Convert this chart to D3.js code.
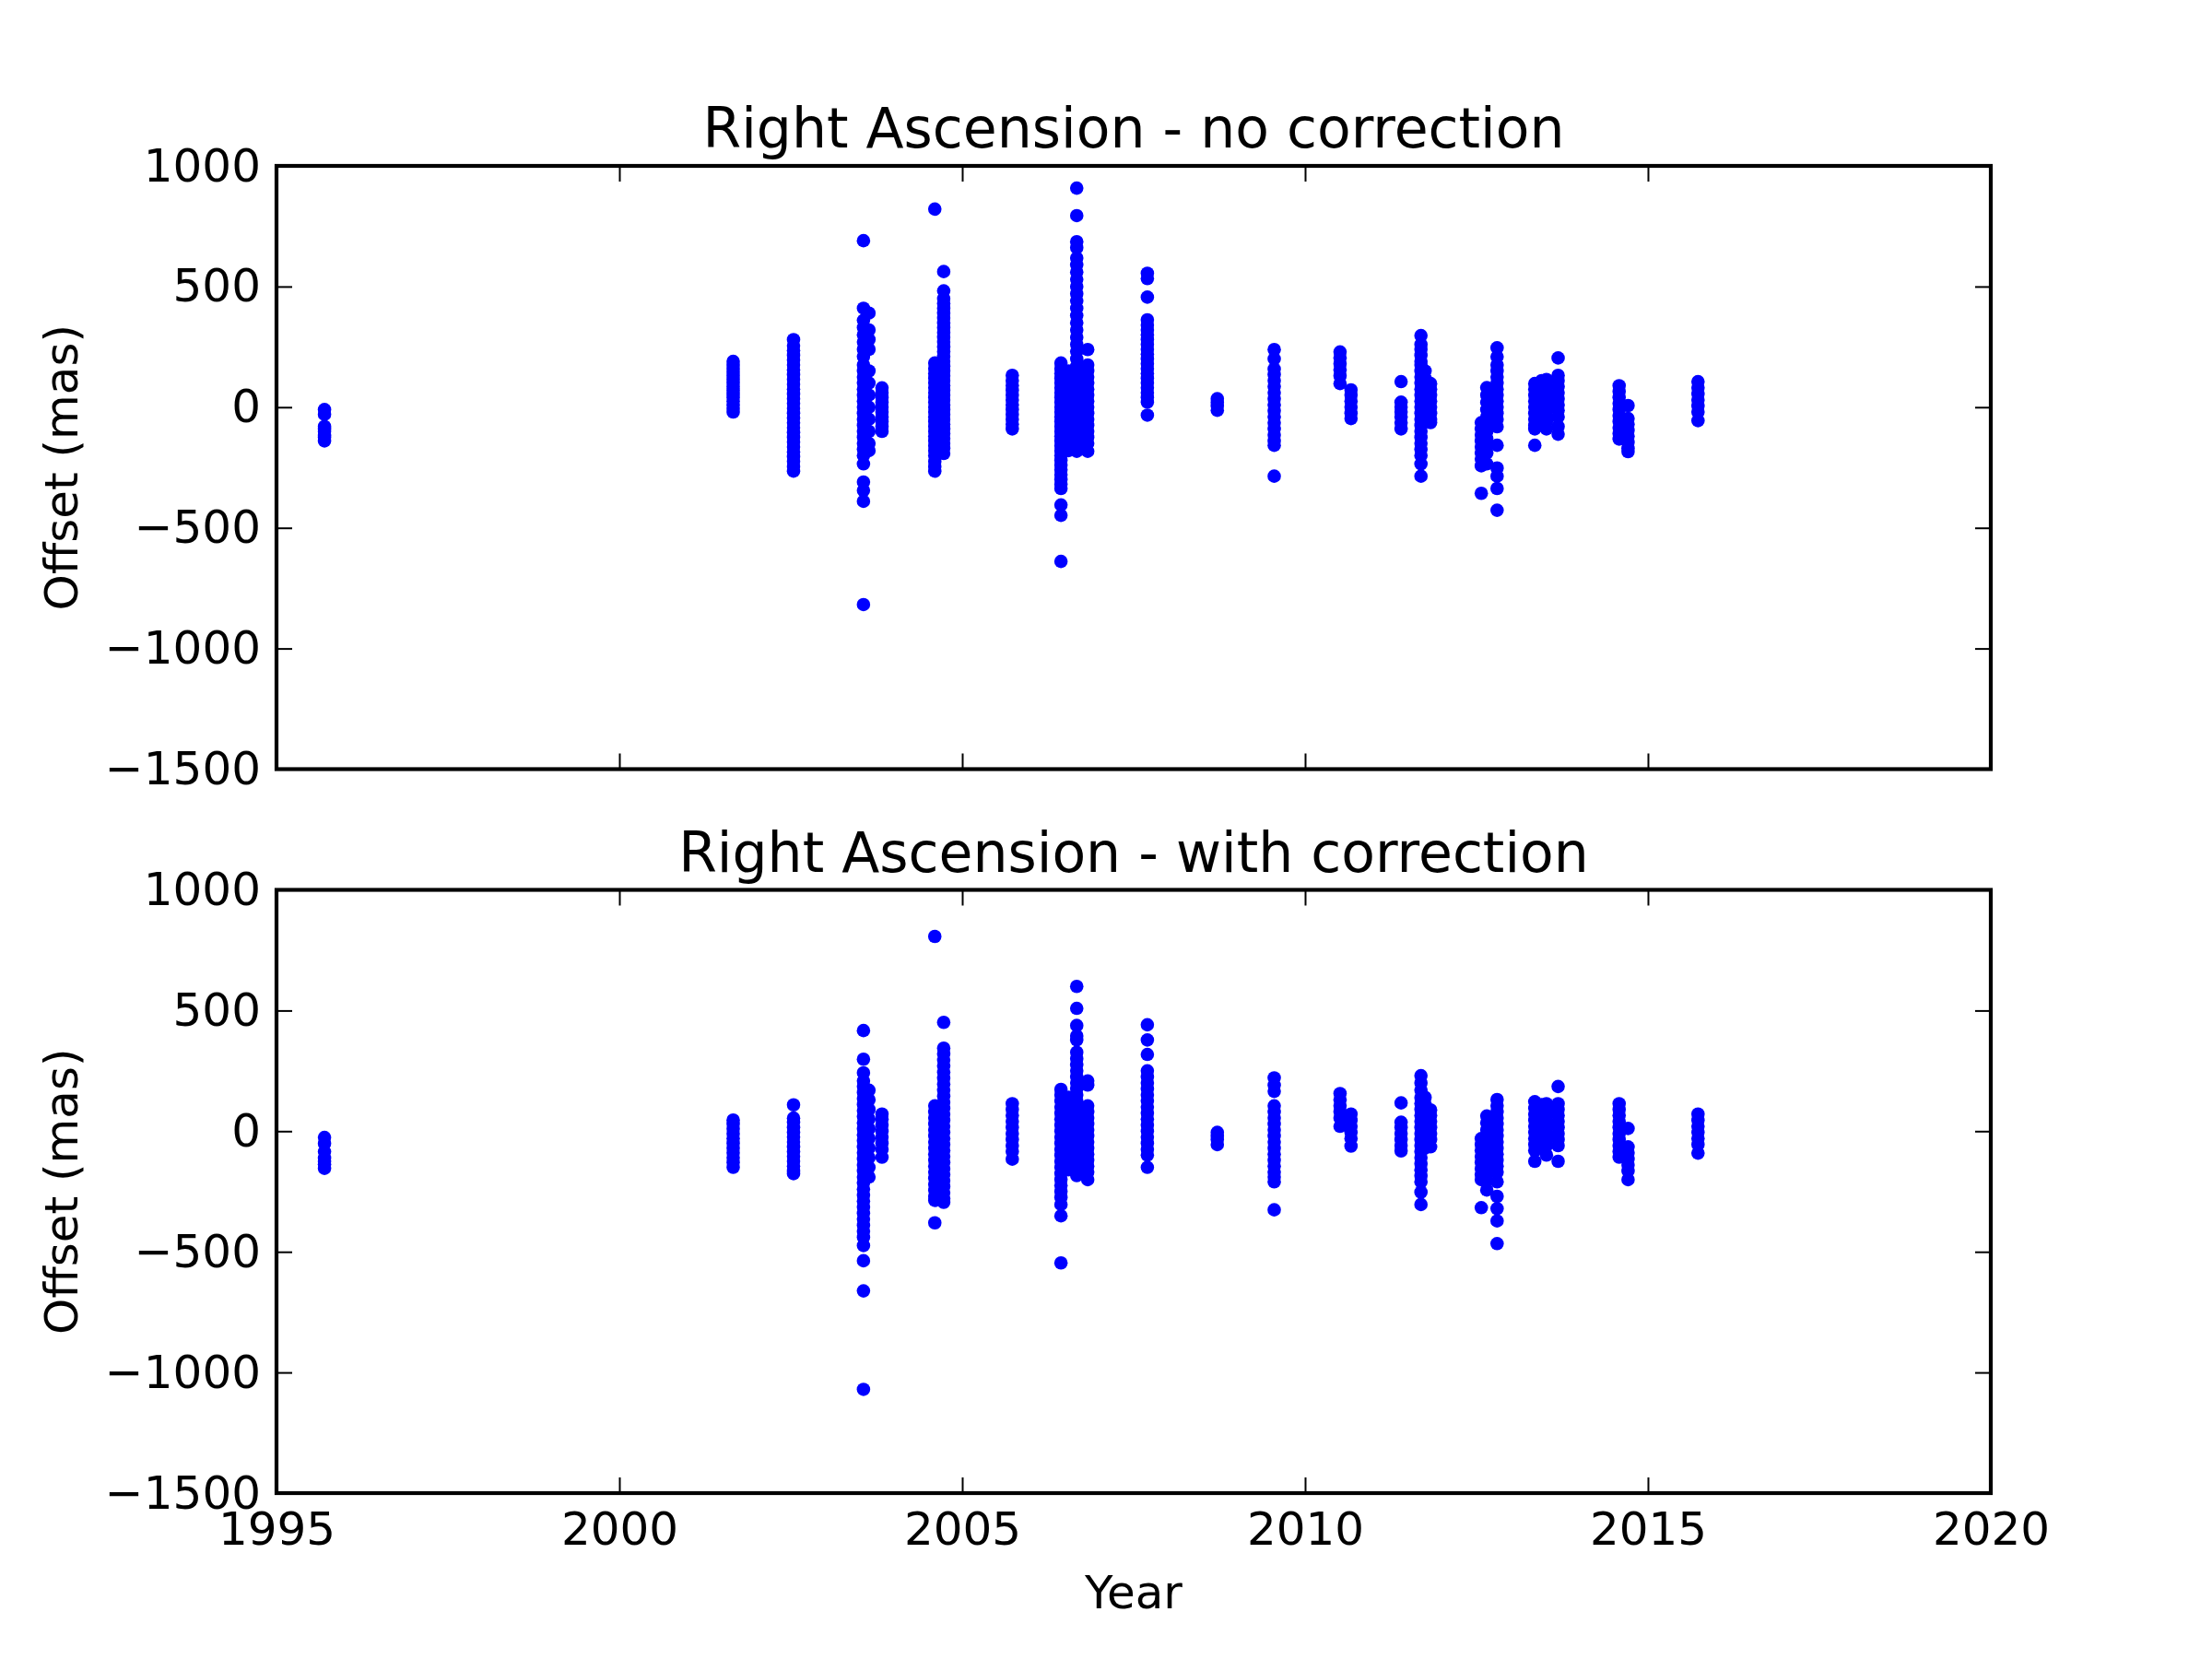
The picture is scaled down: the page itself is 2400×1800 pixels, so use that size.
<!DOCTYPE html>
<html>
<head>
<meta charset="utf-8">
<script src="https://cdn.jsdelivr.net/npm/d3@7"></script>
<style>
body{margin:0;background:#fff;}
text{font-family:"DejaVu Sans",sans-serif;}
</style>
</head>
<body>
<svg></svg>
<script>
// observation epochs (decimal year), one per column of points
var years=[1995.70,2001.66,2002.54,2003.56,2003.64,2003.83,2004.60,2004.73,2005.73,
  2006.44,2006.55,2006.67,2006.83,2007.70,2008.72,2009.55,2010.51,2010.67,2011.40,
  2011.69,2011.75,2011.83,2012.57,2012.65,2012.80,2013.35,2013.45,2013.52,2013.69,
  2014.58,2014.71,2015.73];

// offsets (mas) without correction, one list per epoch
var raNoCorrection=[
  [-10,-30,-80,-90,-100,-115,-125,-140],
  [-20,-5,10,25,40,55,70,85,100,115,130,145,160,175,190],
  [-265,-245,-225,-205,-185,-165,-145,-125,-105,-85,-65,-45,-25,-5,15,35,55,75,95,115,135,155,175,195,215,235,255,280],
  [690,410,360,330,300,270,240,210,175,150,125,100,75,50,25,0,-25,-50,-75,-100,-125,-150,-175,-200,-235,-310,-345,-390,-818],
  [390,320,280,240,150,100,50,0,-50,-100,-150,-180],
  [80,60,40,20,0,-20,-40,-60,-80,-100],
  [821,183,160,140,120,100,80,60,40,20,0,-20,-40,-60,-80,-100,-120,-140,-160,-180,-200,-225,-245,-265],
  [562,482,450,430,410,390,370,350,330,310,290,270,250,230,210,190,170,150,130,110,90,70,50,30,10,-10,-30,-50,-70,-90,-110,-130,-150,-170,-192],
  [132,110,90,70,50,30,10,-10,-30,-50,-70,-90],
  [183,160,140,120,100,80,60,40,20,0,-20,-40,-60,-80,-100,-120,-140,-160,-180,-200,-220,-240,-260,-280,-300,-320,-337,-405,-448,-639],
  [150,120,90,60,30,0,-30,-60,-90,-120,-150,-180],
  [908,794,686,661,618,590,560,530,500,470,440,410,380,350,320,290,260,230,200,170,140,110,80,50,20,-10,-40,-70,-100,-130,-160,-183],
  [239,175,150,125,100,75,50,25,0,-25,-50,-75,-100,-125,-150,-183],
  [555,533,456,362,340,320,300,280,260,240,220,200,180,160,140,120,100,80,60,40,21,-33],
  [35,20,5,-13],
  [239,200,158,135,110,85,60,35,10,-15,-40,-65,-90,-115,-140,-158,-286],
  [229,205,180,155,130,98],
  [72,50,25,0,-25,-47],
  [106,21,0,-20,-40,-65,-90],
  [297,260,240,215,190,175,150,125,100,75,50,25,0,-25,-50,-75,-100,-125,-150,-175,-200,-235,-286],
  [150,120,90,60,30,0,-30,-60],
  [98,75,50,25,0,-25,-50,-64],
  [-64,-90,-115,-140,-165,-190,-215,-243,-357],
  [81,50,20,-10,-40,-70,-100,-130,-160,-190,-235],
  [246,209,175,150,125,100,75,50,25,0,-25,-50,-81,-158,-252,-286,-337,-427],
  [98,75,50,25,0,-25,-50,-75,-90,-158],
  [110,80,50,20,-10,-40,-70],
  [115,90,65,40,15,-10,-35,-60,-90],
  [204,132,110,85,60,35,10,-13,-40,-80,-112],
  [89,65,40,15,-10,-35,-60,-85,-110,-132],
  [7,-47,-70,-95,-120,-145,-170,-184],
  [106,80,55,30,5,-20,-56]
];

// offsets (mas) with correction
var raWithCorrection=[
  [-26,-51,-85,-111,-125,-137,-154],
  [46,30,10,-10,-30,-50,-70,-90,-110,-130,-150],
  [109,54,37,15,-5,-25,-45,-65,-85,-105,-125,-145,-165,-176],
  [417,298,242,208,185,160,135,110,85,60,35,10,-15,-40,-65,-90,-115,-140,-165,-190,-215,-240,-265,-290,-315,-340,-365,-390,-415,-440,-474,-537,-662,-1070],
  [170,130,90,50,10,-30,-70,-110,-150,-190],
  [71,50,25,0,-25,-50,-75,-108],
  [807,105,80,55,30,5,-20,-45,-70,-95,-120,-145,-170,-195,-220,-245,-270,-287,-380],
  [451,344,320,295,270,245,220,195,170,145,120,95,70,45,20,-5,-30,-55,-80,-105,-130,-155,-180,-205,-230,-255,-280,-295],
  [114,90,65,40,15,-10,-35,-60,-85,-116],
  [173,150,125,100,75,50,25,0,-25,-50,-75,-100,-125,-150,-175,-200,-225,-250,-275,-304,-351,-546],
  [140,110,80,50,20,-10,-40,-70,-100,-130,-160],
  [600,509,438,395,378,327,300,275,250,225,200,175,150,125,100,75,50,25,0,-25,-50,-75,-100,-125,-150,-184],
  [208,191,105,80,55,30,5,-20,-45,-70,-95,-120,-145,-170,-201],
  [441,378,318,250,225,200,175,150,125,100,75,50,25,0,-25,-50,-75,-99,-150],
  [-5,-20,-35,-56],
  [221,191,165,105,80,55,30,5,-20,-45,-70,-95,-120,-145,-170,-190,-210,-326],
  [156,130,105,80,55,20],
  [71,45,20,-5,-30,-62],
  [117,37,15,-10,-35,-60,-82],
  [230,200,170,139,115,90,65,40,15,-10,-35,-60,-85,-110,-135,-160,-185,-210,-253,-304],
  [140,110,80,50,20,-10,-40,-70],
  [88,65,40,15,-10,-35,-65],
  [-31,-55,-80,-105,-130,-155,-180,-201,-317],
  [63,35,5,-25,-55,-85,-115,-145,-175,-205,-244],
  [131,105,80,55,30,5,-20,-45,-70,-95,-120,-145,-170,-210,-270,-321,-372,-466],
  [122,95,70,45,20,-5,-30,-55,-80,-125],
  [110,80,50,20,-10,-40,-70],
  [114,90,65,40,15,-10,-35,-60,-99],
  [185,114,90,65,40,15,-10,-35,-60,-125],
  [114,90,65,40,15,-10,-35,-60,-85,-108],
  [11,-65,-90,-115,-140,-165,-201],
  [71,45,20,-5,-30,-55,-91]
];

var xTicks=[1995,2000,2005,2010,2015,2020];
var yTicks=[-1500,-1000,-500,0,500,1000];
var titles=["Right Ascension - no correction","Right Ascension - with correction"];

var scren={width:2400,height:1800};
var svg=d3.select("svg")
          .attr("width",scren.width)
          .attr("height",scren.height);

var box={left:300,right:2160};
var xScale=d3.scaleLinear()
             .domain([1995,2020])
             .range([box.left,box.right]);

var styleAxis=function(g)
{
  g.select(".domain").remove();
  g.selectAll(".tick line").attr("stroke","#000").attr("stroke-width",2);
  g.selectAll(".tick text").attr("font-size",50).attr("fill","#000")
   .attr("font-family","DejaVu Sans");
}

var drawPanel=function(title,data,top,bottom,showX)
{
  var yScale=d3.scaleLinear()
               .domain([-1500,1000])
               .range([bottom,top]);

  var points=[];
  data.forEach(function(vals,i){
    vals.forEach(function(v){ points.push({year:years[i],offset:v}); });
  });

  svg.append("g")
     .selectAll("circle")
     .data(points)
     .enter()
     .append("circle")
     .attr("cx",function(d){return xScale(d.year);})
     .attr("cy",function(d){return yScale(d.offset);})
     .attr("r",7.3)
     .attr("fill","#0000ff");

  // ticks point inward on all four sides
  svg.append("g")
     .attr("transform","translate("+box.left+",0)")
     .call(d3.axisLeft(yScale).tickValues(yTicks).tickFormat(d3.format("d"))
             .tickSizeInner(-17).tickSizeOuter(0).tickPadding(17))
     .call(styleAxis);
  svg.append("g")
     .attr("transform","translate("+box.right+",0)")
     .call(d3.axisRight(yScale).tickValues(yTicks).tickFormat("")
             .tickSizeInner(-17).tickSizeOuter(0))
     .call(styleAxis);
  svg.append("g")
     .attr("transform","translate(0,"+top+")")
     .call(d3.axisTop(xScale).tickValues(xTicks).tickFormat("")
             .tickSizeInner(-17).tickSizeOuter(0))
     .call(styleAxis);
  svg.append("g")
     .attr("transform","translate(0,"+bottom+")")
     .call(d3.axisBottom(xScale).tickValues(xTicks)
             .tickFormat(showX?d3.format("d"):"")
             .tickSizeInner(-17).tickSizeOuter(0).tickPadding(20))
     .call(styleAxis);

  svg.append("rect")
     .attr("x",box.left)
     .attr("y",top)
     .attr("width",box.right-box.left)
     .attr("height",bottom-top)
     .attr("fill","none")
     .attr("stroke","#000")
     .attr("stroke-width",4.2);

  svg.append("text")
     .attr("x",(box.left+box.right)/2)
     .attr("y",top-20)
     .attr("text-anchor","middle")
     .attr("font-size",60)
     .text(title);

  svg.append("text")
     .attr("transform","translate(84,"+((top+bottom)/2)+") rotate(-90)")
     .attr("text-anchor","middle")
     .attr("font-size",50)
     .text("Offset (mas)");
}

drawPanel(titles[0],raNoCorrection,180,834.5,false);
drawPanel(titles[1],raWithCorrection,965.5,1620,true);

svg.append("text")
   .attr("x",(box.left+box.right)/2)
   .attr("y",1745)
   .attr("text-anchor","middle")
   .attr("font-size",50)
   .text("Year");
</script>
</body>
</html>
